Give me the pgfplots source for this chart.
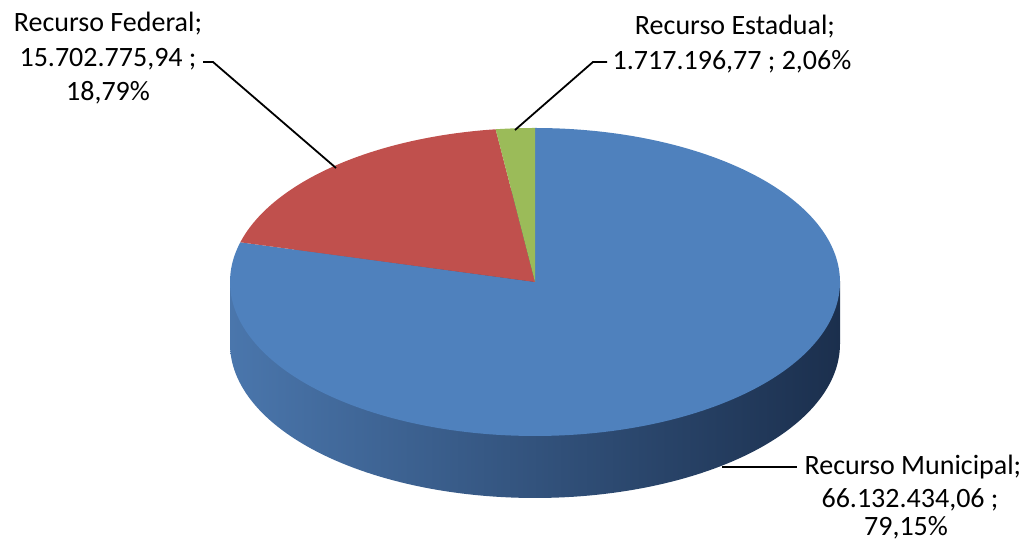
\documentclass[border=0pt]{standalone}
\usepackage{pgfplots}
\pgfplotsset{compat=1.18}
\usepackage{fontspec}
\setmainfont{Carlito}
\definecolor{pieBlue}{RGB}{79,129,189}
\definecolor{pieRed}{RGB}{192,80,77}
\definecolor{pieGreen}{RGB}{155,187,89}
\definecolor{sideL}{RGB}{74,118,172}
\definecolor{sideR}{RGB}{27,47,77}
\begin{document}
\begin{tikzpicture}[lbl/.style={anchor=base, inner sep=0pt, font=\fontsize{14}{17}\selectfont}]
% data (percentages)
\def\pM{79.15}\def\pF{18.79}\def\pE{2.06}
% geometry in pixel units
\def\cx{535}\def\cy{262}\def\ra{305}\def\rb{154}\def\dep{62}
\pgfmathsetmacro{\aS}{90}
\pgfmathsetmacro{\aM}{\aS-3.6*\pM}
\pgfmathsetmacro{\aF}{\aM-3.6*\pF}
\pgfmathsetmacro{\aE}{\aF-3.6*\pE}
\pgfmathsetmacro{\cyb}{\cy-\dep}
\begin{axis}[scale only axis, width=514.5pt, height=272pt,
  xmin=0, xmax=1029, ymin=0, ymax=544, hide axis, clip=false]
\coordinate (bl) at (axis cs:0,0);
\coordinate (tr) at (axis cs:1029,544);
% side of the pie
\addplot[draw=none, left color=sideL, right color=sideR, domain=0:360, samples=240]
  ({\cx+\ra*cos(x)},{\cyb+\rb*sin(x)}) -- cycle;
\addplot[draw=none, left color=sideL, right color=sideR]
  coordinates {(230,200) (840,200) (840,262) (230,262)} -- cycle;
% top slices
\addplot[fill=pieBlue, draw=none, domain=\aM:\aS, samples=240]
  ({\cx+\ra*cos(x)},{\cy+\rb*sin(x)}) -- (axis cs:\cx,\cy) -- cycle;
\addplot[fill=pieRed, draw=none, domain=\aF:\aM, samples=80]
  ({\cx+\ra*cos(x)},{\cy+\rb*sin(x)}) -- (axis cs:\cx,\cy) -- cycle;
\addplot[fill=pieGreen, draw=none, domain=\aE:\aF, samples=20]
  ({\cx+\ra*cos(x)},{\cy+\rb*sin(x)}) -- (axis cs:\cx,\cy) -- cycle;
% leader lines
\draw[black, line width=0.9pt] (axis cs:203,482) -- (axis cs:213,482) -- (axis cs:336,376);
\draw[black, line width=0.9pt] (axis cs:607,482) -- (axis cs:593,482) -- (axis cs:515,414);
\draw[black, line width=0.9pt] (axis cs:722,77) -- (axis cs:797,77);
% labels
\node[lbl] at (axis cs:108,512) {Recurso Federal;};
\node[lbl] at (axis cs:108,477) {15.702.775,94 ;};
\node[lbl] at (axis cs:108,443) {18,79\%};
\node[lbl] at (axis cs:735,509) {Recurso Estadual;};
\node[lbl] at (axis cs:732,474) {1.717.196,77 ; 2,06\%};
\node[lbl] at (axis cs:913,69) {Recurso Municipal;};
\node[lbl] at (axis cs:910,36) {66.132.434,06 ;};
\node[lbl] at (axis cs:906,8) {79,15\%};
\end{axis}
\pgfresetboundingbox
\path[use as bounding box] (bl) rectangle (tr);
\end{tikzpicture}
\end{document}
